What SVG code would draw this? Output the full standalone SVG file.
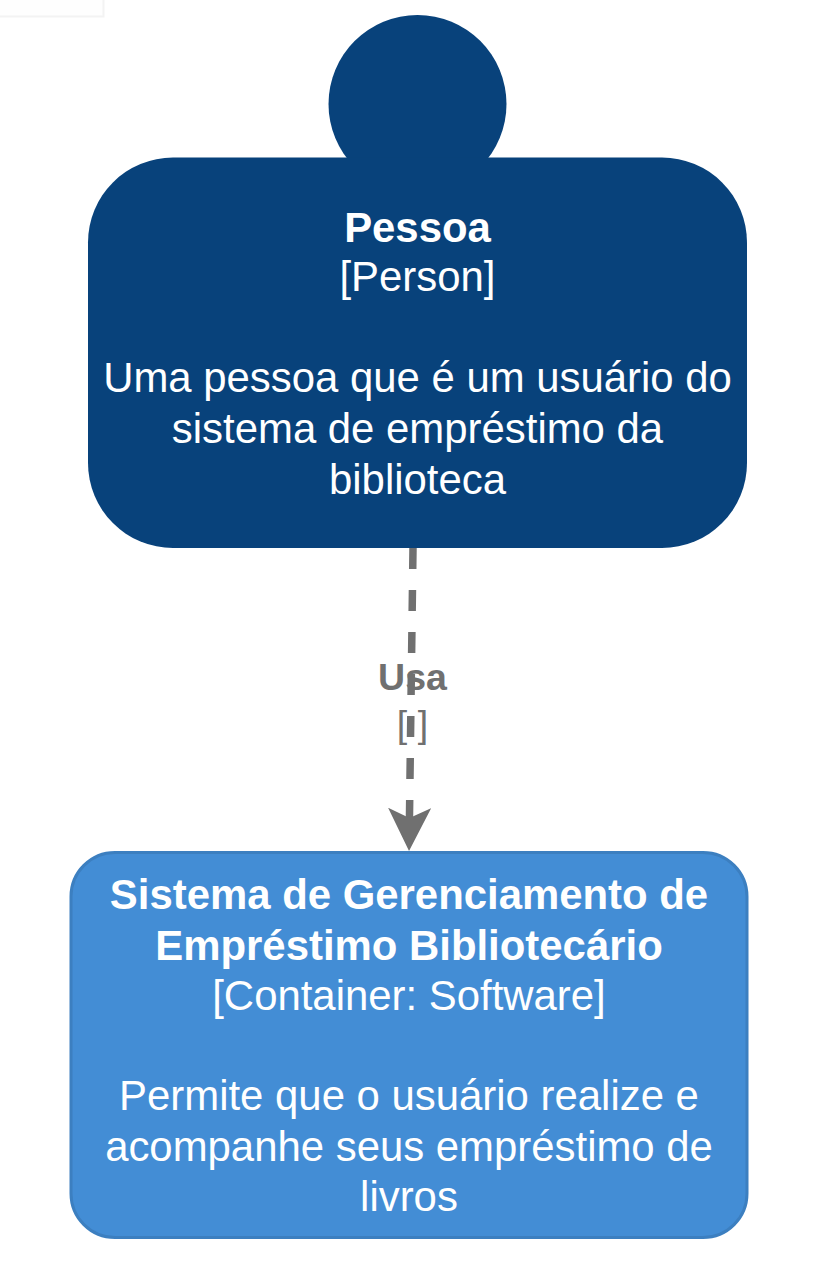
<svg xmlns="http://www.w3.org/2000/svg" width="836" height="1276" viewBox="0 0 836 1276">
<style>
text{font-family:"Liberation Sans",Arial,sans-serif;text-anchor:middle;fill:#fff;font-size:41.900px}
.b{font-weight:bold}
.l{fill:#707070;font-size:37.500px}
</style>
<defs>
<marker id="arrow" markerUnits="userSpaceOnUse" markerWidth="46" markerHeight="46" refX="22" refY="21.5" orient="auto"><path d="M0,0 L43,21.5 L0,43 L10,21.5 Z" fill="#707070"/></marker>
</defs>
<rect width="836" height="1276" fill="#fff"/>
<rect x="-2" y="-2" width="105.500" height="18.500" fill="#fefefe" stroke="#f3f3f3" stroke-width="2"/>
<g id="connectors">
<path d="M413,548 L409.300,830" fill="none" stroke="#707070" stroke-width="7.500" stroke-dasharray="21 21" marker-end="url(#arrow)"/>
</g>
<g id="label-usa">
<text class="l b" x="412.500" y="690">Usa</text>
<text class="l" x="412.500" y="737">[ ]</text>
</g>
<g id="pessoa">
<circle cx="417.500" cy="104" r="89" fill="#08427b"/>
<rect x="88" y="157.500" width="659" height="390.500" rx="85" ry="85" fill="#08427b"/>
<text class="b" x="417.500" y="242">Pessoa</text>
<text x="417.500" y="291">[Person]</text>
<text x="417.500" y="392">Uma pessoa que é um usuário do</text>
<text x="417.500" y="443">sistema de empréstimo da</text>
<text x="417.500" y="494">biblioteca</text>
</g>
<g id="sistema">
<rect x="71" y="852.500" width="676" height="385" rx="44" ry="44" fill="#438dd5" stroke="#3c7fc0" stroke-width="3"/>
<text class="b" x="409" y="909">Sistema de Gerenciamento de</text>
<text class="b" x="409" y="960">Empréstimo Bibliotecário</text>
<text x="409" y="1010">[Container: Software]</text>
<text x="409" y="1110">Permite que o usuário realize e</text>
<text x="409" y="1161">acompanhe seus empréstimo de</text>
<text x="409" y="1211">livros</text>
</g>
</svg>
